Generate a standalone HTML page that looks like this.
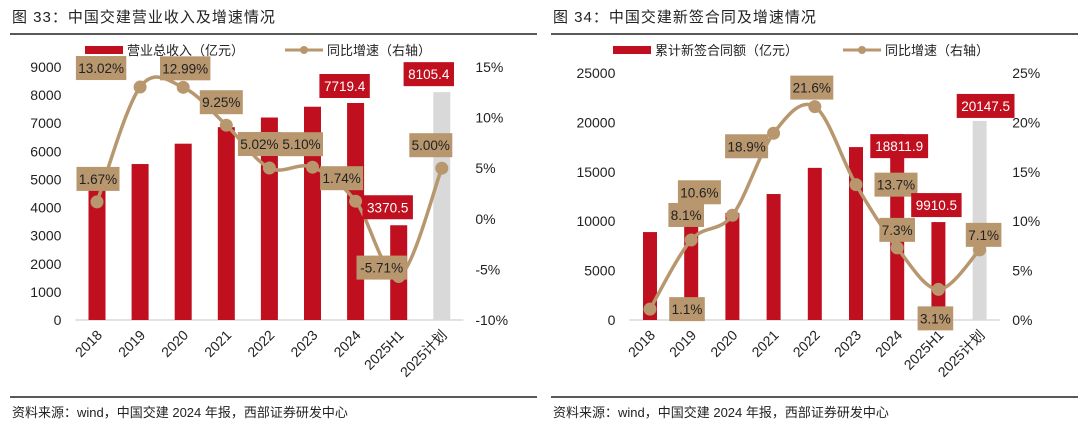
<!DOCTYPE html>
<html><head><meta charset="utf-8">
<style>
body{margin:0;background:#fff;width:1080px;height:428px;overflow:hidden;font-family:"Liberation Sans","Noto Sans CJK SC",sans-serif;}
svg{display:block}
</style></head>
<body>
<svg id="c" width="1080" height="428" xmlns="http://www.w3.org/2000/svg"></svg>
<script>
const cats = ["2018","2019","2020","2021","2022","2023","2024","2025H1","2025计划"];
const revenue = [4908,5548,6272,6860,7203,7587,7719.4,3370.5,8105.4];
const revGrowth = [1.67,13.02,12.99,9.25,5.02,5.10,1.74,-5.71,5.00];
const revGrowthLabels = ["1.67%","13.02%","12.99%","9.25%","5.02%","5.10%","1.74%","-5.71%","5.00%"];
const revLeftTicks = [0,1000,2000,3000,4000,5000,6000,7000,8000,9000];
const revRightTicks = [-10,-5,0,5,10,15];
const contracts = [8900,9600,10830,12750,15400,17500,18811.9,9910.5,20147.5];
const conGrowth = [1.1,8.1,10.6,18.9,21.6,13.7,7.3,3.1,7.1];
const conGrowthLabels = ["1.1%","8.1%","10.6%","18.9%","21.6%","13.7%","7.3%","3.1%","7.1%"];
const conLeftTicks = [0,5000,10000,15000,20000,25000];
const conRightTicks = [0,5,10,15,20,25];

const NS="http://www.w3.org/2000/svg";
const svg=document.getElementById('c');
function el(tag,attrs,parent){const e=document.createElementNS(NS,tag);for(const k in attrs)e.setAttribute(k,attrs[k]);(parent||svg).appendChild(e);return e;}
function txt(s,attrs,parent){const e=el('text',attrs,parent);e.textContent=s;return e;}

function smoothPath(pts){
  let d="M"+pts[0][0]+","+pts[0][1];
  for(let i=0;i<pts.length-1;i++){
    const p0=pts[i-1]||pts[i],p1=pts[i],p2=pts[i+1],p3=pts[i+2]||p2;
    const t=1/6;
    d+=" C"+(p1[0]+(p2[0]-p0[0])*t)+","+(p1[1]+(p2[1]-p0[1])*t)+" "+(p2[0]-(p3[0]-p1[0])*t)+","+(p2[1]-(p3[1]-p1[1])*t)+" "+p2[0]+","+p2[1];
  }
  return d;
}

function chart(cfg){
  const g=el('g',{});
  
  
  const {x0,step,yTop,yBot,lMax,lMin,rMax,rMin}=cfg;
  const xs=i=>x0+i*step;
  const yL=v=>yBot-(v-lMin)/(lMax-lMin)*(yBot-yTop);
  const yR=v=>yBot-(v-rMin)/(rMax-rMin)*(yBot-yTop);
  const t=txt(cfg.title,{x:cfg.titleX,y:22,'font-size':15,fill:'#222','letter-spacing':'1'},g);
  
  const tl=el('line',{x1:cfg.titleX-2,x2:cfg.titleX+525,y1:34,y2:34,stroke:'#222','stroke-width':1.5},g);
  
  const lg=el('g',{},g);
  el('rect',{x:cfg.legX1,y:46,width:38,height:8,fill:'#c00f1e'},lg);
  txt(cfg.leg1,{x:cfg.legX1+42,y:55,'font-size':13,fill:'#222'},lg);
  el('line',{x1:cfg.legX2,x2:cfg.legX2+38,y1:50,y2:50,stroke:'#b8966e','stroke-width':3},lg);
  el('circle',{cx:cfg.legX2+19,cy:50,r:4,fill:'#b8966e'},lg);
  txt(cfg.leg2,{x:cfg.legX2+42,y:55,'font-size':13,fill:'#222'},lg);
  cfg.lTicks.forEach(v=>{const e=txt(String(v),{x:x0-step/2-14,y:yL(v)+5,'font-size':14,fill:'#222','text-anchor':'end'},g);});
  cfg.rTicks.forEach(v=>{const e=txt(v+"%",{x:x0+step*8+step/2+12,y:yR(v)+5,'font-size':14,fill:'#222'},g);});
  const ax=el('line',{x1:x0-step/2,x2:x0+8.5*step,y1:yL(0),y2:yL(0),stroke:'#d9d9d9','stroke-width':1.5},g);
  
  cfg.bars.forEach((v,i)=>{
    const b=el('rect',{x:xs(i)-cfg.bw/2,y:yL(v),width:cfg.bw,height:yL(0)-yL(v),fill:i===8?'#d9d9d9':'#c00f1e'},g);
    
  });
  cats.forEach((c,i)=>{
    const e=txt(c,{x:xs(i)+6,y:yL(0)+16,'font-size':14,fill:'#222','text-anchor':'end',transform:'rotate(-45 '+(xs(i)+6)+' '+(yL(0)+16)+')'},g);
    
  });
  const pts=cfg.line.map((v,i)=>[xs(i),yR(v)]);
  const p=el('path',{d:smoothPath(pts),fill:'none',stroke:'#b8966e','stroke-width':3.5},g);
  
  pts.forEach((pt,i)=>{const c=el('circle',{cx:pt[0],cy:pt[1],r:6.5,fill:'#b8966e'},g);});
  cfg.lineLabels.forEach((s,i)=>{
    const w=s.length*7.4+6,cx=pts[i][0]+cfg.lOff[i][0],cy=pts[i][1]+cfg.lOff[i][1];
    const lg2=el('g',{},g);
    el('rect',{x:cx-w/2,y:cy-12,width:w,height:24,fill:'#b8966e'},lg2);
    txt(s,{x:cx,y:cy+5,'font-size':13.5,fill:'#222','text-anchor':'middle'},lg2);
  });
  cfg.barLabelIdx.forEach((i,k)=>{
    const s=String(cfg.bars[i]);const w=s.length*7.4+6;const cx=xs(i)+cfg.bOff[k][0],cy=yL(cfg.bars[i])+cfg.bOff[k][1];
    const bg=el('g',{},g);
    el('rect',{x:cx-w/2,y:cy-12,width:w,height:24,fill:'#c00f1e'},bg);
    txt(s,{x:cx,y:cy+5,'font-size':13.5,fill:'#fff','text-anchor':'middle'},bg);
  });
  el('line',{x1:cfg.titleX-2,x2:cfg.titleX+525,y1:397,y2:397,stroke:'#222','stroke-width':1.5},g);
  const s=txt("资料来源：wind，中国交建 2024 年报，西部证券研发中心",{x:cfg.titleX,y:417,'font-size':13,fill:'#222'},g);
  
}

chart({name:'revenue-chart',title:'图 33：中国交建营业收入及增速情况',titleX:12,x0:97,step:43.1,yTop:67,yBot:320,lMin:0,lMax:9000,rMin:-10,rMax:15,
  lTicks:revLeftTicks,rTicks:revRightTicks,bars:revenue,line:revGrowth,lineLabels:revGrowthLabels,bw:17,
  legX1:85,legX2:285,leg1:'营业总收入（亿元）',leg2:'同比增速（右轴）',
  lOff:[[1,-23],[-39,-19],[2,-19],[-5,-23],[-10,-24],[-11,-23],[-14,-23],[-17,-9],[-11,-23]],
  barLabelIdx:[6,7,8],bOff:[[-11,-17],[-11,-18],[-13,-18]]});

chart({name:'contract-chart',title:'图 34：中国交建新签合同及增速情况',titleX:553,x0:650,step:41.2,yTop:73,yBot:320,lMin:0,lMax:25000,rMin:0,rMax:25,
  lTicks:conLeftTicks,rTicks:conRightTicks,bars:contracts,line:conGrowth,lineLabels:conGrowthLabels,bw:14,
  legX1:613,legX2:843,leg1:'累计新签合同额（亿元）',leg2:'同比增速（右轴）',
  lOff:[[37,0],[-5,-25],[-33,-23],[-27,13],[-3,-19],[40,0],[0,-18],[-3,29],[4,-15]],
  barLabelIdx:[6,7,8],bOff:[[2,12],[-2,-17],[6,-15]]});
</script>
</body></html>
